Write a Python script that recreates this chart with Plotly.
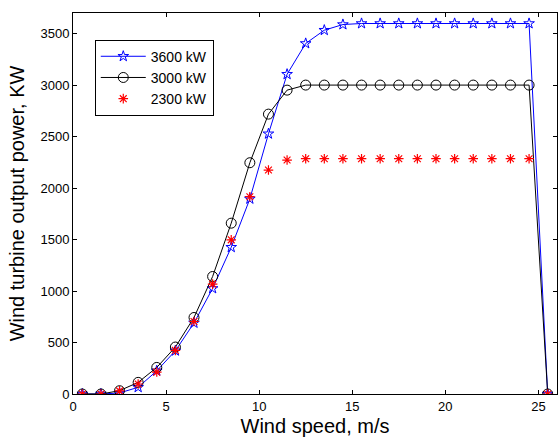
import plotly.graph_objects as go

wind_speed = [0.5, 1.5, 2.5, 3.5, 4.5, 5.5, 6.5, 7.5, 8.5, 9.5, 10.5, 11.5, 12.5,
              13.5, 14.5, 15.5, 16.5, 17.5, 18.5, 19.5, 20.5, 21.5, 22.5, 23.5, 24.5, 25.5]
p3600 = [0, 0, 10, 65, 225, 420, 690, 1025, 1425, 1895, 2527, 3105, 3404,
         3533, 3588, 3598, 3598, 3598, 3598, 3598, 3598, 3598, 3598, 3598, 3598, 0]
p3000 = [0, 0, 32, 113, 258, 456, 743, 1141, 1659, 2246, 2718, 2951, 3000,
         3000, 3000, 3000, 3000, 3000, 3000, 3000, 3000, 3000, 3000, 3000, 3000, 0]
p2300 = [0, 0, 30, 97, 213, 423, 704, 1067, 1497, 1916, 2175, 2272, 2285,
         2285, 2285, 2285, 2285, 2285, 2285, 2285, 2285, 2285, 2285, 2285, 2285, 0]

x_ticks = [0, 5, 10, 15, 20, 25]
y_ticks = [0, 500, 1000, 1500, 2000, 2500, 3000, 3500]

fig = go.Figure()
fig.add_trace(go.Scatter(x=wind_speed, y=p3600, name="3600 kW", mode="lines+markers",
                         line=dict(color="#0000ff", width=1),
                         marker=dict(symbol="star-open", size=8, color="#0000ff", line=dict(width=1))))
fig.add_trace(go.Scatter(x=wind_speed, y=p3000, name="3000 kW", mode="lines+markers",
                         line=dict(color="#000000", width=1),
                         marker=dict(symbol="circle-open", size=10, color="#000000", line=dict(width=1))))
fig.add_trace(go.Scatter(x=wind_speed, y=p2300, name="2300 kW", mode="markers",
                         marker=dict(symbol="asterisk-open", size=8, color="#ff0000", line=dict(width=1.2, color="#ff0000"))))

axis_common = dict(showgrid=False, zeroline=False, showline=True, linecolor="black", linewidth=1,
                   mirror="ticks", ticks="inside", ticklen=4, tickcolor="black",
                   tickfont=dict(family="Liberation Sans, Arial", size=13, color="black"))

fig.update_layout(
    width=558, height=440,
    margin=dict(l=73, r=1, t=13, b=46),
    paper_bgcolor="white", plot_bgcolor="white",
    font=dict(family="Liberation Sans, Arial", color="black"),
    xaxis=dict(range=[0, 26], tickvals=x_ticks,
               title=dict(text="Wind speed, m/s", font=dict(size=20), standoff=6), **axis_common),
    yaxis=dict(range=[0, 3700], tickvals=y_ticks,
               title=dict(text="Wind turbine output power, KW", font=dict(size=20), standoff=10), **axis_common),
    legend=dict(x=0.045, y=0.93, xanchor="left", yanchor="top",
                bordercolor="black", borderwidth=1, bgcolor="white",
                font=dict(size=14, color="black"), itemwidth=45, tracegroupgap=0),
    showlegend=True,
)

fig.write_html("out.html", config={"displayModeBar": False},
               post_script="document.body.style.margin='0';document.body.style.overflow='hidden';")
